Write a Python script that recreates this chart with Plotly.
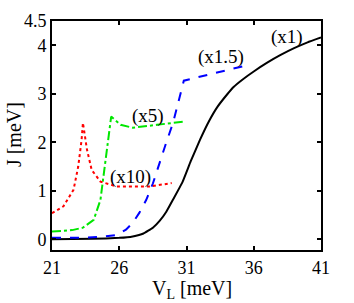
import plotly.graph_objects as go

# Black solid (x1)
v_x1 = [21, 24, 26, 27, 27.8, 28.5, 29, 29.5, 30, 30.7, 31.3, 32, 32.7, 33.3, 34, 34.5, 35.2, 36, 37, 38, 39, 40, 41]
j_x1 = [0.0, 0.01, 0.03, 0.06, 0.12, 0.24, 0.38, 0.57, 0.82, 1.18, 1.6, 2.05, 2.45, 2.73, 2.98, 3.14, 3.3, 3.46, 3.64, 3.8, 3.94, 4.06, 4.16]

# Blue dashed (x1.5)
v_x15 = [21, 23, 24.5, 25.8, 26.5, 27, 27.5, 28, 28.5, 29, 29.5, 30, 30.4, 30.8, 33, 35.7]
j_x15 = [0.03, 0.03, 0.05, 0.09, 0.2, 0.34, 0.55, 0.81, 1.15, 1.6, 2.0, 2.4, 2.85, 3.27, 3.42, 3.6]

# Green dash-dot (x5)
v_x5 = [21, 22.5, 23.3, 24.1, 24.6, 24.9, 25.3, 25.4, 26.1, 27.0, 28.8, 30.9]
j_x5 = [0.16, 0.19, 0.24, 0.4, 0.81, 1.5, 2.33, 2.53, 2.36, 2.3, 2.36, 2.43]

# Red dotted (x10)
v_x10 = [21, 21.85, 22.6, 22.95, 23.2, 23.3, 23.6, 23.95, 24.6, 25.8, 28.3, 29.9]
j_x10 = [0.54, 0.68, 1.02, 1.5, 2.05, 2.4, 1.85, 1.43, 1.19, 1.09, 1.09, 1.16]

labels = ["(x1)", "(x1.5)", "(x5)", "(x10)"]
label_v = [38.5, 33.6, 28.1, 26.8]
label_j = [4.17, 3.76, 2.55, 1.29]

x_ticks = [21, 26, 31, 36, 41]
y_ticks = [0, 1, 2, 3, 4, 4.5]

FONT = "Times New Roman, Liberation Serif, serif"

fig = go.Figure()
fig.add_trace(go.Scatter(x=v_x1, y=j_x1, mode="lines", line=dict(color="black", width=2, shape="spline", smoothing=0.3)))
fig.add_trace(go.Scatter(x=v_x15, y=j_x15, mode="lines", line=dict(color="#0000ff", width=2, dash="dash")))
fig.add_trace(go.Scatter(x=v_x5, y=j_x5, mode="lines", line=dict(color="#00e600", width=2, dash="dashdot")))
fig.add_trace(go.Scatter(x=v_x10, y=j_x10, mode="lines", line=dict(color="#ff0000", width=2, dash="dot")))

for t, xv, yv in zip(labels, label_v, label_j):
    fig.add_annotation(x=xv, y=yv, text=t, showarrow=False,
                       font=dict(family=FONT, size=19, color="black"))

# axis titles as paper annotations
fig.add_annotation(xref="paper", yref="paper", x=0.52, y=-0.172, yanchor="middle", xanchor="center",
                   text="V<sub>L</sub> [meV]", showarrow=False,
                   font=dict(family=FONT, size=20, color="black"))
fig.add_annotation(xref="paper", yref="paper", x=-0.141, y=0.502, xanchor="center", yanchor="middle",
                   text="J [meV]", textangle=-90, showarrow=False,
                   font=dict(family=FONT, size=20, color="black"))

axis_common = dict(showline=True, linecolor="black", linewidth=2, mirror="ticks",
                   ticks="inside", ticklen=4, tickwidth=1.5, tickcolor="black",
                   showgrid=False, zeroline=False,
                   tickfont=dict(family=FONT, size=18, color="black"))

fig.update_xaxes(range=[21, 41], tickvals=x_ticks, ticktext=[str(v) for v in x_ticks], **axis_common)
fig.update_yaxes(range=[-0.22, 4.5], tickvals=y_ticks, ticktext=[str(v) for v in y_ticks], **axis_common)

fig.update_layout(width=354, height=303, showlegend=False,
                  margin=dict(l=52, r=33, t=21, b=53),
                  plot_bgcolor="white", paper_bgcolor="white")

fig.write_html("out.html", config={"displayModeBar": False},
               post_script="document.body.style.margin='0';")
